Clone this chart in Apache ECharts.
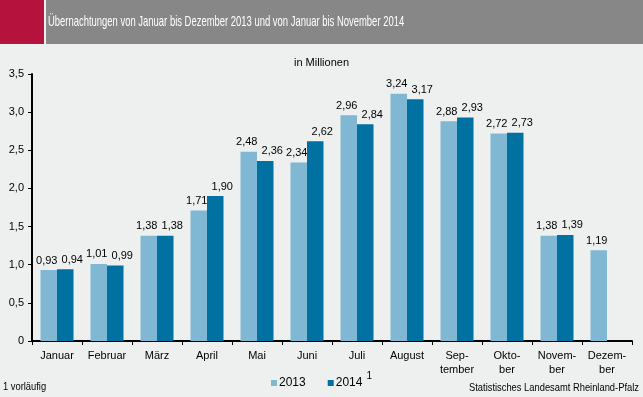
<!DOCTYPE html>
<html>
<head>
<meta charset="utf-8">
<script src="https://cdn.jsdelivr.net/npm/echarts@6/dist/echarts.min.js"></script>
<style>
  html, body { margin: 0; padding: 0; background: #eef0ef; }
  #chart { width: 643px; height: 397px; }
</style>
</head>
<body>
<div id="chart"></div>
<script>
  // Monate (Achsenbeschriftung mit Silbentrennung wie im Original)
  const months = ['Januar', 'Februar', 'März', 'April', 'Mai', 'Juni', 'Juli', 'August',
    'Sep-\ntember', 'Okto-\nber', 'Novem-\nber', 'Dezem-\nber'];
  // Übernachtungen in Millionen
  const values2013 = [0.93, 1.01, 1.38, 1.71, 2.48, 2.34, 2.96, 3.24, 2.88, 2.72, 1.38, 1.19];
  const values2014 = [0.94, 0.99, 1.38, 1.90, 2.36, 2.62, 2.84, 3.17, 2.93, 2.73, 1.39, null];

  const font = '"Liberation Sans", Arial, sans-serif';
  const fmt = v => v.toFixed(1).replace('.', ',');
  const fmt2 = p => p.value.toFixed(2).replace('.', ',');

  let chart = echarts.init(document.getElementById('chart'));
  let option = {
    backgroundColor: '#eef0ef',
    textStyle: { fontFamily: font },
    animation: false,
    graphic: [
      { type: 'rect', shape: { x: 0, y: 0, width: 44, height: 44 }, style: { fill: '#b5123e' } },
      { type: 'rect', shape: { x: 46, y: 0, width: 597, height: 44 }, style: { fill: '#878787' } },
      { type: 'text', x: 48, y: 14, scaleX: 0.63, style: {
          text: 'Übernachtungen von Januar bis Dezember 2013 und von Januar bis November 2014',
          fill: '#fff', font: '15px ' + font } },
      { type: 'text', left: 'center', top: 57, style: {
          text: 'in Millionen', fill: '#000', font: '11px ' + font } },
      { type: 'text', x: 3, y: 381, scaleX: 0.85, style: {
          text: '1 vorläufig', fill: '#000', font: '11px ' + font } },
      { type: 'text', x: 469, y: 382, scaleX: 0.85, style: {
          text: 'Statistisches Landesamt Rheinland-Pfalz', fill: '#000', font: '11px ' + font } }
    ],
    grid: { left: 32, right: 11, top: 74, bottom: 56 },
    legend: {
      bottom: 3,
      left: 'center',
      itemWidth: 6,
      itemHeight: 6,
      itemGap: 22,
      icon: 'rect',
      textStyle: {
        fontSize: 12, color: '#000', padding: [0, 0, 0, -3],
        rich: { sup: { fontSize: 10, verticalAlign: 'bottom', padding: [0, 0, 14, 4] } }
      },
      formatter: name => name === '2014' ? '2014{sup|1}' : name,
      data: ['2013', '2014']
    },
    xAxis: {
      type: 'category',
      data: months,
      axisLine: { lineStyle: { color: '#000', width: 2 } },
      axisTick: { show: true, length: 4, lineStyle: { color: '#000' } },
      axisLabel: { color: '#000', fontSize: 11, interval: 0, margin: 8, lineHeight: 14 }
    },
    yAxis: {
      type: 'value',
      min: 0,
      max: 3.5,
      interval: 0.5,
      splitLine: { show: false },
      axisLine: { show: true, lineStyle: { color: '#000', width: 2 } },
      axisTick: { show: true, length: 4, lineStyle: { color: '#000' } },
      axisLabel: { color: '#000', fontSize: 11, margin: 8,
        formatter: v => v === 0 ? '0' : fmt(v) }
    },
    series: [
      {
        name: '2013',
        type: 'bar',
        data: values2013,
        barWidth: '33%',
        barGap: '0%',
        itemStyle: { color: '#80b7d3' },
        label: { show: true, position: 'top', color: '#000', fontSize: 11, distance: 4,
          offset: [-2, 0], formatter: fmt2 }
      },
      {
        name: '2014',
        type: 'bar',
        data: values2014,
        barWidth: '33%',
        itemStyle: { color: '#0071a1' },
        label: { show: true, position: 'top', color: '#000', fontSize: 11, distance: 4,
          offset: [7, 0], formatter: fmt2 }
      }
    ]
  };
  chart.setOption(option);
</script>
</body>
</html>
